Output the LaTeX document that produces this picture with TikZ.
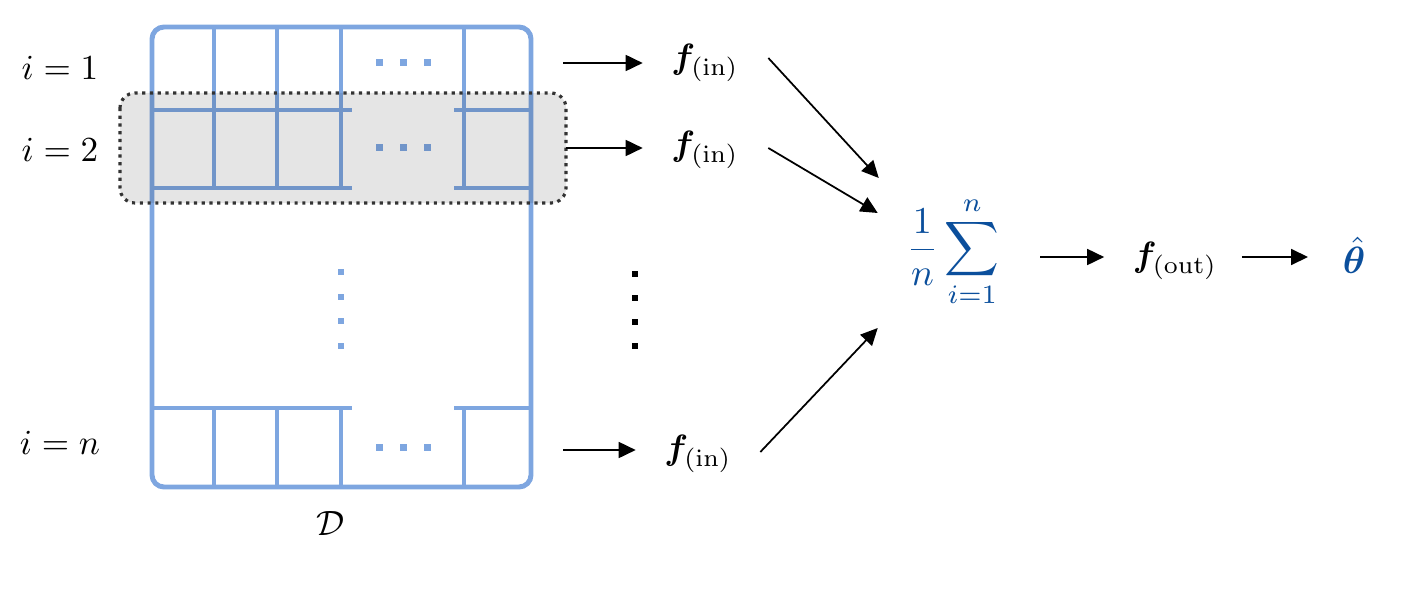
\documentclass[tikz,border=0pt]{standalone}
\usepackage{amsmath,bm}
\usetikzlibrary{arrows.meta,calc,positioning}
\definecolor{tableblue}{HTML}{7EA6E0}
\definecolor{sumblue}{HTML}{0B4F9C}

\begin{document}
\begin{tikzpicture}[x=0.01cm, y=-0.01cm,
    frame/.style={draw=tableblue, line width=1.4pt, rounded corners=0.12cm},
    grid/.style={draw=tableblue, line width=0.9pt},
    arr/.style={-{Triangle[length=0.17cm, width=0.16cm]}, line width=0.5pt},
    fbox/.style={inner xsep=0.28cm, inner ysep=1pt},
    rowbox/.style={draw=black!80, line width=0.9pt, dash pattern={on 0.9pt off 1.3pt},
        fill=black, fill opacity=0.1, rounded corners=0.15cm}]
    \useasboundingbox (0,0) rectangle (1404,588);

    % the data table
    \draw[frame] (152,27) rectangle (531,487);
    \foreach \x in {214,277,341,464} {
        \draw[grid] (\x,27) -- (\x,188);
        \draw[grid] (\x,408) -- (\x,487);
    }
    \foreach \y in {110,188,408} {
        \draw[grid] (152,\y) -- (352,\y);
        \draw[grid] (454,\y) -- (531,\y);
    }
    \foreach \x in {379,403,427}
        \foreach \y in {63,148,447}
            \fill[tableblue] (\x-3.5,\y-3.5) rectangle +(7,7);
    \foreach \y in {272,297,321,346}
        \fill[tableblue] (341-3,\y-3) rectangle +(6,6);

    % highlighted second row
    \draw[rowbox] (120,93) rectangle (566,203);

    \node (row1) at (60,68) {$i=1$};
    \node (row2) at (60,150) {$i=2$};
    \node (rown) at (60,443) {$i=n$};
    \node (data) at (331,523) {$\mathcal{D}$};

    \coordinate (out1) at (563,63);
    \coordinate (out2) at (566,148);
    \coordinate (outn) at (563,450);

    % per-sample functions
    \node[fbox] (fin1) at (705,63) {$\bm{f}_{(\mathrm{in})}$};
    \node[fbox] (fin2) at (705,150) {$\bm{f}_{(\mathrm{in})}$};
    \node[fbox] (finn) at (698,454) {$\bm{f}_{(\mathrm{in})}$};
    \foreach \y in {274,298,322,346}
        \fill (635-3,\y-3) rectangle +(6,6);

    \node[fbox, text=sumblue] (sum) at (953,252) {\scalebox{1.08}{$\displaystyle\frac{1}{n}\sum_{i=1}^{n}$}};
    \node[fbox] (fout) at (1175,261) {$\bm{f}_{(\mathrm{out})}$};
    \node[fbox, text=sumblue] (theta) at (1354,255) {\scalebox{1.08}{$\hat{\bm{\theta}}$}};

    \draw[arr] (out1) -- (out1 -| fin1.west);
    \draw[arr] (out2) -- (out2 -| fin2.west);
    \draw[arr] (outn) -- (outn -| finn.west);
    \draw[arr] ($(fin1.east)+(1,-5)$) -- ($(sum.west)+(1,-74)$);
    \draw[arr] ($(fin2.east)+(1,-2)$) -- ($(sum.west)+(0,-39)$);
    \draw[arr] ($(finn.east)+(0,-2)$) -- ($(sum.west)+(0,76)$);
    \draw[arr, shorten <=0.12cm] (sum.east |- 0,257) -- (fout.west |- 0,257);
    \draw[arr, shorten <=-0.04cm, shorten >=0.06cm] (fout.east |- 0,257) -- (theta.west |- 0,257);
\end{tikzpicture}
\end{document}
